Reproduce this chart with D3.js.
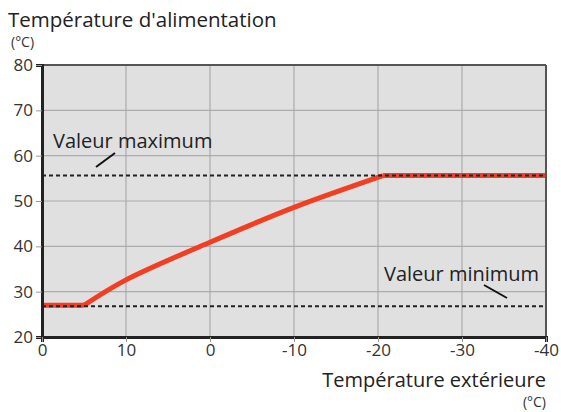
<!DOCTYPE html>
<html><head><meta charset="utf-8">
<script src="https://cdn.jsdelivr.net/npm/d3@7"></script>
<style>body{margin:0;background:#fff;}svg{display:block;font-family:"Open Sans",sans-serif;}</style>
</head><body><svg id="c" width="561" height="412"></svg>
<script>
// data
const xTickValues = [20, 10, 0, -10, -20, -30, -40];
const xTickLabels = ["0", "10", "0", "-10", "-20", "-30", "-40"];
const yTickValues = [20, 30, 40, 50, 60, 70, 80];
// flat low part, rising curve, flat high part
const lowOutdoor = [20, 15];
const lowSupply = [27, 27];
const riseOutdoor = [15, 10, 0, -10, -20.6];
const riseSupply  = [27, 32.6, 40.9, 48.6, 55.6];
const highOutdoor = [-20.6, -40];
const highSupply = [55.6, 55.6];
const maxValue = 55.6;
const minValue = 26.8;

const svg = d3.select("#c");
const m = {l: 42, r: 546, t: 65, b: 337};
const x = d3.scaleLinear().domain([20, -40]).range([m.l, m.r]);
const y = d3.scaleLinear().domain([20, 80]).range([m.b, m.t]);

svg.append("rect").attr("x", m.l).attr("y", m.t).attr("width", m.r - m.l).attr("height", m.b - m.t).attr("fill", "#e0e0e0");

// grid
svg.append("g").selectAll("line").data(xTickValues.slice(1, -1)).join("line")
  .attr("x1", d => x(d)).attr("x2", d => x(d)).attr("y1", m.t).attr("y2", m.b)
  .attr("stroke", "#ababab").attr("stroke-width", 1.2);
svg.append("g").selectAll("line").data(yTickValues.slice(1, -1)).join("line")
  .attr("y1", d => y(d)).attr("y2", d => y(d)).attr("x1", m.l).attr("x2", m.r)
  .attr("stroke", "#ababab").attr("stroke-width", 1.2);

// curve
const lin = d3.line().x(d => x(d[0])).y(d => y(d[1]));
const smooth = d3.line().x(d => x(d[0])).y(d => y(d[1])).curve(d3.curveCatmullRom.alpha(0.5));
const zip = (a, b) => a.map((d, i) => [d, b[i]]);
const g = svg.append("g").attr("fill", "none").attr("stroke", "#f23e23").attr("stroke-width", 5).attr("stroke-linejoin", "round");
g.append("path").attr("d", lin(zip(lowOutdoor, lowSupply)));
g.append("path").attr("d", smooth(zip(riseOutdoor, riseSupply)));
g.append("path").attr("d", lin(zip(highOutdoor, highSupply)));

// reference lines
[maxValue, minValue].forEach(v => {
  svg.append("line").attr("x1", m.l).attr("x2", m.r).attr("y1", y(v)).attr("y2", y(v))
    .attr("stroke", "#222").attr("stroke-width", 2).attr("stroke-dasharray", "4,3");
});

// frame
svg.append("line").attr("x1", m.l).attr("x2", m.r).attr("y1", m.t).attr("y2", m.t).attr("stroke", "#555").attr("stroke-width", 2);
svg.append("line").attr("x1", m.r).attr("x2", m.r).attr("y1", m.t).attr("y2", m.b).attr("stroke", "#555").attr("stroke-width", 2);

// axes
const yAxis = svg.append("g").attr("transform", `translate(${m.l},0)`)
  .call(d3.axisLeft(y).tickValues(yTickValues).tickSize(6).tickPadding(3));
const xAxis = svg.append("g").attr("transform", `translate(0,${m.b})`)
  .call(d3.axisBottom(x).tickValues(xTickValues).tickFormat((d, i) => xTickLabels[i]).tickSize(5).tickPadding(2));
[yAxis, xAxis].forEach(a => {
  a.select(".domain").attr("stroke", "#222").attr("stroke-width", 3);
  a.selectAll(".tick line").attr("stroke", "#999");
  a.selectAll("text").attr("font-size", 17).attr("fill", "#333").attr("font-family", "Open Sans, sans-serif");
});

// titles
svg.append("text").attr("x", 8).attr("y", 27).attr("font-size", 20.5).attr("fill", "#222").text("Température d'alimentation");
svg.append("text").attr("x", 11).attr("y", 47).attr("font-size", 14).attr("fill", "#333").text("(°C)");
svg.append("text").attr("x", 546).attr("y", 387).attr("text-anchor", "end").attr("font-size", 20).attr("fill", "#222").text("Température extérieure");
svg.append("text").attr("x", 546).attr("y", 407).attr("text-anchor", "end").attr("font-size", 14).attr("fill", "#333").text("(°C)");

// annotations
svg.append("text").attr("x", 53).attr("y", 148).attr("font-size", 20).attr("fill", "#222").text("Valeur maximum");
svg.append("line").attr("x1", 96).attr("y1", 167).attr("x2", 115).attr("y2", 153).attr("stroke", "#111").attr("stroke-width", 2);
svg.append("text").attr("x", 384).attr("y", 281).attr("font-size", 20).attr("fill", "#222").text("Valeur minimum");
svg.append("line").attr("x1", 484).attr("y1", 285).attr("x2", 507).attr("y2", 298).attr("stroke", "#111").attr("stroke-width", 2);
</script></body></html>
